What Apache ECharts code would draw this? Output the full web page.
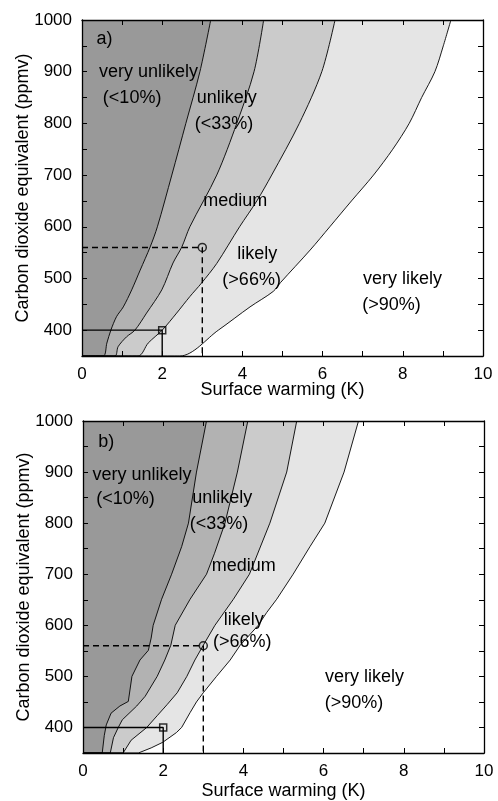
<!DOCTYPE html>
<html><head><meta charset="utf-8">
<script src="https://cdn.jsdelivr.net/npm/echarts@6/dist/echarts.min.js"></script>
<style>html,body{margin:0;padding:0;background:#fff}#c{width:498px;height:801px}</style>
</head><body><div id="c"></div>
<script>
// Curves: [surface warming (K), CO2 equivalent (ppmv)]
const curveA10 = [[0.53,350],[0.62,375],[0.72,400],[0.86,426],[1.03,445],[1.24,478],[1.45,516],[1.70,561],[1.88,600],[2.24,700],[2.59,800],[2.94,900],[3.21,1000]];
const curveA33 = [[0.82,350],[0.90,368],[1.11,387],[1.32,400],[1.61,433],[1.99,478],[2.27,530],[2.49,561],[2.69,600],[3.36,700],[3.86,800],[4.29,900],[4.53,1000]];
const curveA66 = [[1.40,350],[1.65,375],[2.00,400],[2.36,433],[2.69,465],[2.98,491],[3.36,529],[3.93,600],[4.36,650],[4.73,700],[5.42,800],[5.98,900],[6.31,1000]];
const curveA90 = [[2.44,350],[3.40,400],[4.19,445],[4.77,475],[4.95,492],[5.69,555],[6.18,600],[6.72,650],[7.27,700],[7.75,750],[8.16,800],[8.47,850],[8.80,900],[9.01,950],[9.20,1000]];

const curveB10 = [[0.48,350],[0.53,384],[0.58,405],[0.70,428],[0.92,442],[1.13,451],[1.22,500],[1.42,532],[1.63,551],[1.70,575],[1.75,600],[1.96,651],[2.21,700],[2.46,754],[2.63,800],[2.83,900],[3.08,1000]];
const curveB33 = [[0.68,350],[0.76,380],[0.88,400],[0.98,415],[1.34,442],[1.55,461],[1.85,500],[2.04,532],[2.19,561],[2.30,600],[2.67,651],[3.08,700],[3.28,741],[3.54,800],[3.85,900],[4.11,1000]];
const curveB66 = [[1.00,350],[1.20,375],[1.59,400],[1.85,423],[2.10,445],[2.35,468],[2.59,500],[2.79,532],[3.00,561],[3.29,600],[3.75,651],[4.15,700],[4.66,800],[5.08,900],[5.33,1000]];
const curveB90 = [[1.38,350],[1.70,360],[1.99,371],[2.33,390],[2.46,400],[2.67,429],[2.83,450],[3.00,468],[3.33,500],[3.67,532],[3.92,561],[4.37,600],[4.58,625],[4.83,651],[5.24,700],[5.66,754],[6.03,800],[6.51,900],[6.87,1000]];

const guideDashed = [[0,560],[3,560],[3,350]];
const guideSolid = [[0,400],[2,400],[2,350]];
const pointCircle = [3,560];
const pointSquare = [2,400];

const labelTextA = ['a)','very unlikely','(<10%)','unlikely','(<33%)','medium','likely','(>66%)','very likely','(>90%)'];
const labelXA = [0.56,1.66,1.25,3.61,3.54,3.82,4.37,4.23,7.99,7.72];
const labelYA = [963,900,849,849,799,649,548,497,498,449];
const labelTextB = ['b)','very unlikely','(<10%)','unlikely','(<33%)','medium','likely','(>66%)','very likely','(>90%)'];
const labelXB = [0.58,1.47,1.06,3.47,3.39,4.01,4.01,3.97,7.02,6.76];
const labelYB = [959,895,847,849,799,717,610,567,498,448];

const xTicks = [0,10,1];
const yTicks = [350,1000,50];
const fills = ['#e5e5e5','#cbcbcb','#b2b2b2','#999999'];
const FONT = 'Liberation Sans, Arial, Helvetica, sans-serif';

const grids = [
  {left:82, top:20, width:401, height:336},
  {left:83, top:421, width:401, height:337}
];
const xNameGap = [25, 29];

function xAx(g, pos, withName){
  return {type:'value', gridIndex:g, position:pos, min:xTicks[0], max:xTicks[1], interval:xTicks[2], z:3,
    axisLine:{show:true, onZero:false, lineStyle:{color:'#000', width:1.3}},
    axisTick:{show:true, inside:true, length:5, lineStyle:{color:'#000', width:1}},
    splitLine:{show:false},
    axisLabel:{show:withName, margin:10, color:'#000', fontSize:17, fontFamily:FONT,
      formatter:v => (v % 2 === 0 ? String(v) : '')},
    name: withName ? 'Surface warming (K)' : '', nameLocation:'middle', nameGap:xNameGap[g],
    nameMoveOverlap:false,
    nameTextStyle:{color:'#000', fontSize:18, fontFamily:FONT}};
}
function yAx(g, pos, withName){
  return {type:'value', gridIndex:g, position:pos, min:yTicks[0], max:yTicks[1], interval:yTicks[2], z:3,
    axisLine:{show:true, onZero:false, lineStyle:{color:'#000', width:1.3}},
    axisTick:{show:true, inside:true, length:5, lineStyle:{color:'#000', width:1}},
    splitLine:{show:false},
    axisLabel:{show:withName, margin:10, color:'#000', fontSize:17, fontFamily:FONT,
      formatter:v => (v % 100 === 0 ? String(v) : '')},
    name: withName ? 'Carbon dioxide equivalent (ppmv)' : '', nameLocation:'middle', nameGap:50,
    nameMoveOverlap:false,
    nameTextStyle:{color:'#000', fontSize:18, fontFamily:FONT}};
}

function fillSeries(curve, color, xi, yi, smooth){
  return {type:'line', xAxisIndex:xi, yAxisIndex:yi, data:[[xTicks[0], yTicks[0]]].concat(curve),
    symbol:'none', silent:true, animation:false, z:1, smooth:smooth,
    lineStyle:{color:'#000', width:0.9},
    areaStyle:{color:color, opacity:1, origin:'end'}};
}
function guideSeries(data, dashed, xi, yi){
  return {type:'line', xAxisIndex:xi, yAxisIndex:yi, data:data, symbol:'none', silent:true, animation:false, z:4,
    lineStyle:{color:'#000', width:1.4, type: dashed ? [6,4] : 'solid'}};
}
function markerSeries(pt, sym, size, xi, yi){
  return {type:'scatter', xAxisIndex:xi, yAxisIndex:yi, data:[pt], symbol:sym, symbolSize:size,
    silent:true, animation:false, z:5,
    itemStyle:{color:'rgba(0,0,0,0)', borderColor:'#000', borderWidth:1.5}};
}
function labelSeries(texts, xs, ys, xi, yi){
  return {type:'scatter', xAxisIndex:xi, yAxisIndex:yi, symbolSize:1, silent:true, animation:false, z:6,
    itemStyle:{color:'rgba(0,0,0,0)'},
    data: texts.map((t,i)=>({name:t, value:[xs[i], ys[i]]})),
    label:{show:true, position:'inside', formatter:'{b}', color:'#000', opacity:1,
      textBorderWidth:0, textBorderColor:'transparent', fontSize:18, fontFamily:FONT}};
}

function panelSeries(curves, texts, xs, ys, xi, yi, smooth){
  const s = [];
  for (let k = 3; k >= 0; k--) s.push(fillSeries(curves[k], fills[3-k], xi, yi, smooth));
  s.push(guideSeries(guideDashed, true, xi, yi));
  s.push(guideSeries(guideSolid, false, xi, yi));
  s.push(markerSeries(pointCircle, 'circle', 8, xi, yi));
  s.push(markerSeries(pointSquare, 'rect', 7, xi, yi));
  s.push(labelSeries(texts, xs, ys, xi, yi));
  return s;
}

const chart = echarts.init(document.getElementById('c'), null, {renderer:'canvas'});
chart.setOption({
  animation:false,
  backgroundColor:'#fff',
  grid: grids,
  xAxis:[xAx(0,'bottom',true), xAx(0,'top',false), xAx(1,'bottom',true), xAx(1,'top',false)],
  yAxis:[yAx(0,'left',true), yAx(0,'right',false), yAx(1,'left',true), yAx(1,'right',false)],
  series: [].concat(
    panelSeries([curveA10,curveA33,curveA66,curveA90], labelTextA, labelXA, labelYA, 0, 0, 0.3),
    panelSeries([curveB10,curveB33,curveB66,curveB90], labelTextB, labelXB, labelYB, 2, 2, false)
  )
});
</script>
</body></html>
